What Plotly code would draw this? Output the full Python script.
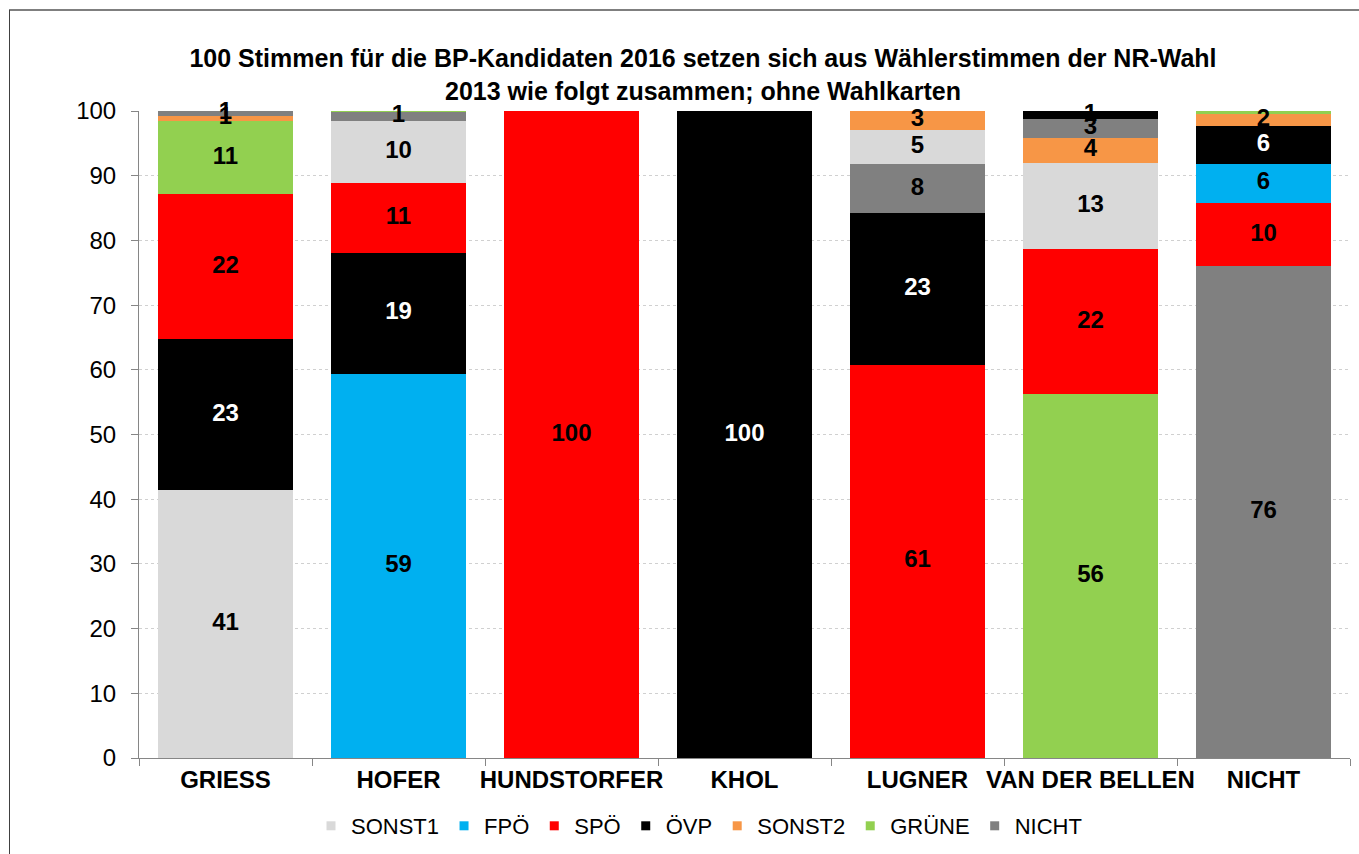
import plotly.graph_objects as go

# ---------------- data ----------------
candidates = ["GRIESS", "HOFER", "HUNDSTORFER", "KHOL", "LUGNER", "VAN DER BELLEN", "NICHT"]
parties = ["SONST1", "FPÖ", "SPÖ", "ÖVP", "SONST2", "GRÜNE", "NICHT"]

sonst1 = [41.4, 9.6, 0, 0, 5.3, 13.4, 0]
fpoe = [0, 59.4, 0, 0, 0, 0, 6.0]
spoe = [22.4, 10.8, 100, 0, 60.8, 22.4, 9.8]
oevp = [23.3, 18.7, 0, 100, 23.4, 1.2, 5.9]
sonst2 = [0.8, 0, 0, 0, 2.9, 3.9, 1.9]
gruene = [11.4, 0.1, 0, 0, 0, 56.2, 0.4]
nicht = [0.7, 1.4, 0, 0, 7.6, 2.9, 76.0]

title_text = ("100 Stimmen für die BP-Kandidaten 2016 setzen sich aus Wählerstimmen der NR-Wahl"
              "<br>2013 wie folgt zusammen; ohne Wahlkarten")

# ---------------- style ----------------
colors = {
    "SONST1": "#d9d9d9",
    "FPÖ": "#00b0f0",
    "SPÖ": "#ff0000",
    "ÖVP": "#000000",
    "SONST2": "#f79646",
    "GRÜNE": "#92d050",
    "NICHT": "#808080",
}
FONT = "Liberation Sans, Arial, sans-serif"
W, H = 1359, 854
ML, MR, MT, MB = 139, 9, 111, 96
PW, PH = W - ML - MR, H - MT - MB


def px_x(px):
    return (px - ML) / PW


def px_y(py):
    return (H - MB - py) / PH


values = {
    "SONST1": sonst1, "FPÖ": fpoe, "SPÖ": spoe, "ÖVP": oevp,
    "SONST2": sonst2, "GRÜNE": gruene, "NICHT": nicht,
}

# stacking: within each bar, segments ordered from largest (bottom) to smallest (top)
stacks = []
for i, c in enumerate(candidates):
    segs = [(p, values[p][i]) for p in parties if values[p][i] > 0]
    segs.sort(key=lambda s: -s[1])
    stacks.append(segs)
n_layers = max(len(s) for s in stacks)

fig = go.Figure()
for layer in range(n_layers):
    ys, cols = [], []
    for segs in stacks:
        if layer < len(segs):
            p, v = segs[layer]
            ys.append(v)
            cols.append(colors[p])
        else:
            ys.append(0)
            cols.append("rgba(0,0,0,0)")
    fig.add_trace(go.Bar(
        x=candidates, y=ys, marker=dict(color=cols, line=dict(width=0)),
        showlegend=False, hoverinfo="skip",
    ))

# data labels at the centre of each segment
lx, ly, lt, lc = [], [], [], []
for c, segs in zip(candidates, stacks):
    base = 0.0
    for p, v in segs:
        if v >= 0.5:
            lx.append(c)
            ly.append(base + v / 2)
            lt.append(f"{v:.0f}")
            lc.append("white" if (p == "ÖVP" and v > 2) else "black")
        base += v
fig.add_trace(go.Scatter(
    x=lx, y=ly, text=lt, mode="text", textposition="middle center",
    textfont=dict(family=FONT, size=24, color=lc, weight="bold"),
    cliponaxis=False, showlegend=False, hoverinfo="skip",
))

# legend entries
for p in parties:
    fig.add_trace(go.Scatter(
        x=[None], y=[None], mode="markers", name=p,
        marker=dict(symbol="square", size=9, color=colors[p]),
    ))

fig.update_layout(
    width=W, height=H,
    margin=dict(l=ML, r=MR, t=MT, b=MB, autoexpand=False),
    paper_bgcolor="white", plot_bgcolor="white",
    barmode="stack", bargap=0.225,
    title=dict(text=title_text, x=703 / W, xanchor="center", xref="container",
               y=1 - 67 / H, yanchor="middle", yref="container",
               font=dict(family=FONT, size=25, color="black", weight="bold")),
    legend=dict(orientation="h", x=699 / W, xanchor="center", xref="container",
                y=1 - 826 / H, yanchor="middle", yref="container",
                font=dict(family=FONT, size=22, color="black"),
                itemwidth=30, traceorder="normal"),
    xaxis=dict(showline=True, linecolor="#868686", linewidth=1,
               ticks="outside", tickson="boundaries", ticklen=7, tickcolor="#868686",
               tickangle=0,
               tickfont=dict(family=FONT, size=24, color="black", weight="bold"),
               showgrid=False, fixedrange=True),
    yaxis=dict(range=[0, 100], dtick=10, showline=True, linecolor="#868686", linewidth=1,
               ticks="outside", ticklen=7, tickcolor="#868686",
               tickfont=dict(family=FONT, size=24, color="black"),
               showgrid=True, gridcolor="#d0d0d0", griddash="dot", gridwidth=1,
               zeroline=False, ticklabelstandoff=10, fixedrange=True),
    shapes=[
        dict(type="line", xref="paper", yref="paper", x0=px_x(9), x1=px_x(1370),
             y0=px_y(10), y1=px_y(10), line=dict(color="#7f7f7f", width=2)),
        dict(type="line", xref="paper", yref="paper", x0=px_x(9.5), x1=px_x(9.5),
             y0=px_y(10), y1=px_y(870), line=dict(color="#404040", width=1)),
    ],
)

fig.write_html("out.html", config={"displayModeBar": False},
               post_script="document.body.style.margin='0';")
